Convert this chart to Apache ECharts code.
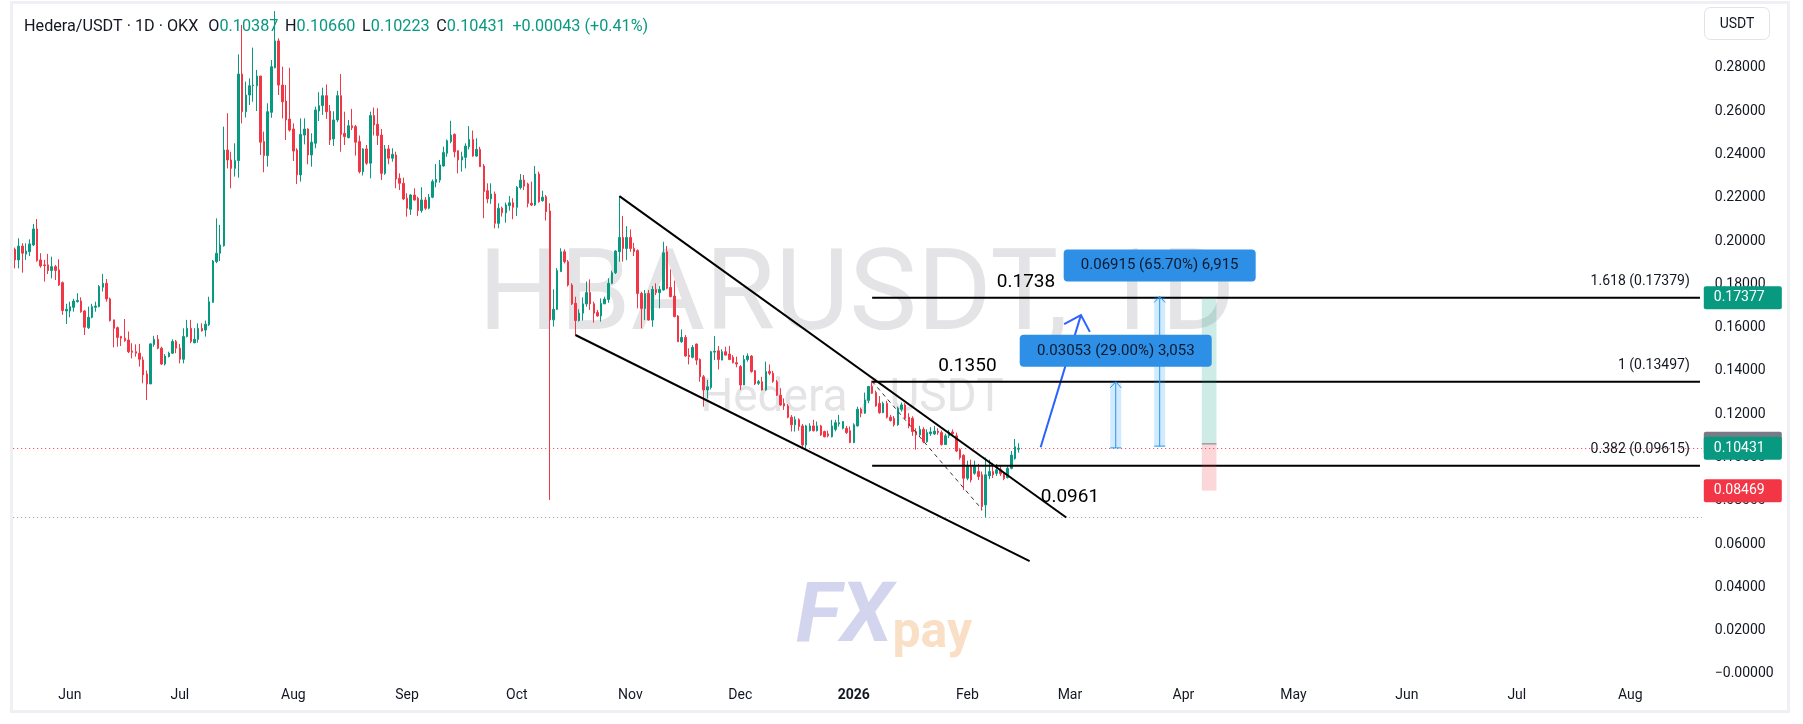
<!DOCTYPE html>
<html><head><meta charset="utf-8">
<script src="https://cdn.jsdelivr.net/npm/echarts@6/dist/echarts.min.js"></script>
<style>html,body{margin:0;padding:0;background:#fff;}#c{width:1803px;height:724px;}</style>
</head><body><div id="c"></div>
<script>
// ---------- DATA ----------
const firstDate = '2025-05-17';
const categoryCount = 461; // daily slots through Aug 2026
const opens = [
.1962,.1913,.1977,.1940,.1951,.1982,.2056,.1913,.1890,.1890,
.1864,.1882,.1867,.1808,.1677,.1677,.1694,.1720,.1723,.1677,
.1600,.1648,.1694,.1697,.1787,.1805,.1733,.1636,.1600,.1559,
.1551,.1543,.1492,.1489,.1482,.1451,.1386,.1340,.1522,.1546,
.1505,.1432,.1466,.1482,.1536,.1505,.1454,.1559,.1597,.1530,
.1546,.1597,.1589,.1613,.1717,.1905,.1944,.1979,.2421,.2375,
.2336,.2372,.2772,.2598,.2675,.2718,.2718,.2763,.2460,.2395,
.2595,.2801,.2925,.2721,.2647,.2564,.2518,.2421,.2306,.2490,
.2518,.2398,.2452,.2601,.2626,.2672,.2601,.2472,.2560,.2672,
.2498,.2478,.2533,.2529,.2460,.2321,.2426,.2360,.2580,.2540,
.2490,.2313,.2426,.2383,.2398,.2290,.2267,.2198,.2147,.2213,
.2198,.2141,.2190,.2152,.2203,.2272,.2282,.2347,.2406,.2460,
.2493,.2418,.2375,.2387,.2436,.2470,.2393,.2424,.2347,.2233,
.2195,.2218,.2082,.2152,.2131,.2164,.2177,.2156,.2247,.2282,
.2264,.2175,.2167,.2310,.2187,.2205,.2139,.1636,.1685,.1859,
.1951,.1905,.1797,.1713,.1633,.1667,.1710,.1762,.1710,.1670,
.1654,.1710,.1730,.1805,.1854,.1951,.2017,.1966,.2017,.1966,
.1956,.1758,.1689,.1758,.1635,.1777,.1762,.1774,.1951,.1786,
.1746,.1654,.1535,.1555,.1473,.1463,.1524,.1453,.1373,.1312,
.1324,.1487,.1493,.1450,.1489,.1478,.1463,.1438,.1420,.1335,
.1453,.1469,.1401,.1343,.1350,.1312,.1397,.1389,.1350,.1288,
.1250,.1238,.1186,.1151,.1175,.1146,.1058,.1124,.1146,.1124,
.1146,.1120,.1109,.1096,.1130,.1155,.1135,.1135,.1124,.1069,
.1146,.1223,.1205,.1264,.1328,.1300,.1250,.1207,.1250,.1186,
.1181,.1151,.1223,.1243,.1186,.1181,.1120,.1104,.1130,.1073,
.1110,.1109,.1122,.1115,.1060,.1100,.1118,.1100,.1036,.1010,
.0904,.0958,.0927,.0935,.0920,.0781,.0915,.0935,.0927,.0943,
.0925,.0908,.0950,.0995,.10387];
const highs = [
.1970,.2013,.1990,.1990,.2008,.2079,.2102,.1944,.1913,.1941,
.1928,.1890,.1916,.1813,.1710,.1720,.1733,.1759,.1740,.1682,
.1697,.1710,.1720,.1797,.1848,.1825,.1739,.1636,.1605,.1562,
.1640,.1582,.1528,.1523,.1525,.1466,.1402,.1528,.1562,.1566,
.1512,.1478,.1489,.1546,.1543,.1525,.1597,.1636,.1636,.1597,
.1620,.1620,.1633,.1743,.1913,.2105,.2075,.2529,.2591,.2413,
.2452,.2863,.2999,.2737,.2752,.2894,.2791,.2763,.2506,.2637,
.2837,.3063,.2937,.2806,.2721,.2801,.2544,.2429,.2567,.2567,
.2521,.2498,.2621,.2688,.2709,.2724,.2629,.2600,.2694,.2772,
.2598,.2560,.2611,.2537,.2488,.2429,.2444,.2598,.2617,.2614,
.2518,.2444,.2444,.2429,.2413,.2313,.2293,.2221,.2218,.2244,
.2205,.2249,.2203,.2218,.2285,.2356,.2375,.2436,.2470,.2556,
.2498,.2418,.2413,.2452,.2532,.2511,.2475,.2436,.2356,.2267,
.2267,.2229,.2175,.2159,.2178,.2208,.2198,.2254,.2310,.2306,
.2270,.2275,.2347,.2321,.2233,.2213,.2175,.1777,.1875,.1967,
.1962,.1913,.1805,.1743,.1685,.1740,.1813,.1823,.1720,.1682,
.1735,.1743,.1828,.1863,.1958,.2208,.2116,.2069,.2054,.1992,
.1962,.1766,.1774,.1774,.1792,.1805,.1792,.1997,.1977,.1869,
.1817,.1658,.1592,.1566,.1504,.1520,.1527,.1458,.1381,.1358,
.1493,.1561,.1515,.1500,.1512,.1515,.1473,.1466,.1427,.1473,
.1481,.1473,.1404,.1358,.1373,.1443,.1430,.1400,.1358,.1320,
.1273,.1247,.1196,.1190,.1181,.1155,.1151,.1158,.1174,.1166,
.1151,.1124,.1124,.1174,.1174,.1197,.1169,.1146,.1143,.1158,
.1235,.1231,.1300,.1331,.1355,.1309,.1284,.1258,.1262,.1197,
.1192,.1235,.1254,.1251,.1205,.1190,.1135,.1146,.1140,.1130,
.1140,.1146,.1135,.1125,.1110,.1128,.1130,.1115,.1043,.1015,
.0985,.0990,.0985,.0970,.0935,.1000,.0990,.0975,.0970,.0960,
.0932,.0960,.1030,.1085,.10660];
const lows = [
.1874,.1874,.1854,.1913,.1931,.1977,.1905,.1877,.1813,.1848,
.1828,.1820,.1793,.1659,.1617,.1648,.1674,.1716,.1669,.1566,
.1594,.1643,.1674,.1694,.1767,.1720,.1628,.1509,.1512,.1515,
.1535,.1482,.1458,.1466,.1420,.1343,.1266,.1340,.1512,.1500,
.1428,.1425,.1463,.1479,.1482,.1435,.1435,.1555,.1528,.1528,
.1531,.1582,.1559,.1608,.1716,.1898,.1908,.1974,.2336,.2244,
.2298,.2293,.2544,.2571,.2629,.2644,.2601,.2398,.2318,.2344,
.2570,.2798,.2675,.2567,.2467,.2506,.2370,.2264,.2275,.2447,
.2355,.2344,.2429,.2555,.2583,.2565,.2444,.2440,.2550,.2413,
.2444,.2475,.2513,.2395,.2313,.2303,.2352,.2290,.2488,.2444,
.2282,.2306,.2355,.2367,.2244,.2236,.2190,.2113,.2121,.2187,
.2116,.2131,.2144,.2147,.2198,.2249,.2270,.2344,.2390,.2452,
.2387,.2313,.2321,.2336,.2424,.2390,.2390,.2344,.2106,.2175,
.2172,.2059,.2059,.2113,.2085,.2141,.2101,.2116,.2239,.2236,
.2156,.2162,.2162,.2177,.2182,.2095,.0804,.1605,.1682,.1859,
.1897,.1790,.1705,.1566,.1628,.1633,.1697,.1682,.1623,.1651,
.1628,.1709,.1715,.1802,.1848,.1905,.1905,.1912,.1951,.1931,
.1689,.1597,.1635,.1633,.1604,.1751,.1689,.1771,.1777,.1740,
.1648,.1535,.1530,.1466,.1430,.1458,.1428,.1350,.1235,.1273,
.1315,.1450,.1407,.1450,.1473,.1450,.1435,.1417,.1312,.1335,
.1443,.1392,.1335,.1335,.1309,.1309,.1380,.1345,.1284,.1238,
.1220,.1181,.1120,.1120,.1124,.1043,.1038,.1120,.1120,.1120,
.1100,.1093,.1093,.1093,.1121,.1143,.1130,.1109,.1066,.1066,
.1143,.1186,.1202,.1251,.1294,.1235,.1202,.1205,.1180,.1166,
.1143,.1146,.1212,.1177,.1135,.1100,.1036,.1096,.1066,.1068,
.1100,.1104,.1105,.1055,.1058,.1090,.1102,.1025,.0990,.0850,
.0895,.0885,.0920,.0896,.0755,.0723,.0900,.0905,.0915,.0915,
.0895,.0903,.0945,.0990,.10223];
const closes = [
.1913,.1977,.1944,.1954,.1987,.2056,.1910,.1885,.1887,.1864,
.1882,.1864,.1797,.1679,.1685,.1697,.1723,.1726,.1674,.1602,
.1648,.1697,.1700,.1790,.1805,.1733,.1633,.1597,.1555,.1551,
.1540,.1489,.1486,.1482,.1454,.1382,.1340,.1525,.1546,.1505,
.1432,.1469,.1482,.1536,.1505,.1454,.1559,.1597,.1536,.1546,
.1597,.1585,.1616,.1720,.1908,.1944,.1982,.2421,.2375,.2336,
.2372,.2772,.2598,.2675,.2718,.2721,.2763,.2457,.2395,.2598,
.2806,.2925,.2721,.2644,.2560,.2513,.2416,.2306,.2493,.2518,
.2398,.2457,.2606,.2626,.2672,.2598,.2467,.2560,.2672,.2493,
.2483,.2533,.2524,.2457,.2321,.2426,.2360,.2580,.2537,.2488,
.2313,.2426,.2383,.2401,.2287,.2267,.2195,.2152,.2213,.2190,
.2141,.2190,.2152,.2203,.2275,.2285,.2352,.2409,.2464,.2490,
.2413,.2375,.2390,.2439,.2470,.2393,.2424,.2344,.2229,.2195,
.2218,.2082,.2152,.2131,.2167,.2177,.2156,.2249,.2282,.2254,
.2175,.2167,.2310,.2182,.2203,.2136,.1636,.1685,.1864,.1951,
.1905,.1797,.1710,.1633,.1667,.1710,.1762,.1710,.1667,.1654,
.1712,.1732,.1805,.1854,.1954,.2017,.1966,.2017,.1966,.1951,
.1758,.1689,.1758,.1635,.1777,.1762,.1777,.1946,.1782,.1743,
.1651,.1535,.1555,.1469,.1466,.1509,.1450,.1373,.1312,.1327,
.1489,.1491,.1453,.1489,.1473,.1453,.1438,.1432,.1335,.1453,
.1469,.1397,.1340,.1350,.1312,.1397,.1389,.1352,.1288,.1243,
.1238,.1186,.1151,.1175,.1143,.1058,.1146,.1146,.1124,.1146,
.1104,.1096,.1100,.1146,.1161,.1161,.1166,.1115,.1069,.1151,
.1223,.1205,.1266,.1328,.1297,.1238,.1207,.1250,.1186,.1171,
.1151,.1228,.1243,.1181,.1146,.1120,.1104,.1130,.1073,.1115,
.1118,.1122,.1115,.1060,.1100,.1117,.1110,.1030,.0999,.0904,
.0958,.0896,.0958,.0912,.0773,.0920,.0935,.0920,.0943,.0925,
.0903,.0950,.1011,.1050,.10431];

const monthNames = ['Jan','Feb','Mar','Apr','May','Jun','Jul','Aug','Sep','Oct','Nov','Dec'];
const yTicks = {min: 0, max: 0.30, step: 0.02};

// drawings (date, price)
const wedgeUpper = [['2025-10-29', 0.2208], ['2026-02-28', 0.0723]];
const wedgeLower = [['2025-10-17', 0.1566], ['2026-02-18', 0.0521]];
const dashedLeg  = [['2026-01-06', 0.1352], ['2026-02-05', 0.0760]];
const fibStart = '2026-01-06';
const fibLevels = [0.17379, 0.13497, 0.09615];
const fibRatios = ['1.618', '1', '0.382'];
const fibShort = ['0.1738', '0.1350', '0.0961'];
const fibShortAt = [['2026-02-17', -16], ['2026-02-01', -16], ['2026-03-01', 31]];
const arrowPath = [['2026-02-21', 0.1047], ['2026-03-04', 0.1658]];
const rangeDates = [['2026-03-12', '2026-03-15'], ['2026-03-24', '2026-03-27']];
const rangeBase = [0.10444, 0.10525];
const rangeTop = [0.13497, 0.17440];
const rangeText = ['0.03053 (29.00%) 3,053', '0.06915 (65.70%) 6,915'];
const longDates = ['2026-04-06', '2026-04-10'];
const longLevels = {entry: 0.1063, target: 0.17377, stop: 0.08469};
const priceTags = [['0.17377', 0.17377, '#089981'], ['0.10431', 0.10431, '#089981'], ['0.08469', 0.08469, '#f23645']];
const header = {pair: 'Hedera/USDT · 1D · OKX', o: '0.10387', h: '0.10660', l: '0.10223', c: '0.10431', chg: '+0.00043 (+0.41%)'};

// ---------- BUILD ----------
const categories = [];
const t0 = Date.parse(firstDate + 'T00:00:00Z');
for (let i = 0; i < categoryCount; i++) categories.push(new Date(t0 + i * 86400000).toISOString().slice(0, 10));
const lastCat = categories[categories.length - 1];
const candles = opens.map((o, i) => [o, closes[i], lows[i], highs[i]]);
const hi = Math.max(...highs), lo = Math.min(...lows), last = closes[closes.length - 1];

const FONT = 'Roboto, "Noto Sans", sans-serif';
const TXT = '#131722';
const chart = echarts.init(document.getElementById('c'), null, {renderer: 'canvas'});

function lineSeries(data, style) {
  return {type: 'line', data: data, symbol: 'none', silent: true, z: 6, animation: false,
    lineStyle: Object.assign({color: '#000', width: 2}, style)};
}
const fibSeries = fibLevels.map(v => lineSeries([[fibStart, v], [lastCat, v]], {width: 2}));

const option = {
  animation: false,
  backgroundColor: '#ffffff',
  textStyle: {fontFamily: FONT},
  grid: {left: 13.17, right: 101.2, top: 24.7, bottom: 50.1, outerBoundsMode: 'none', containLabel: false},
  xAxis: {
    type: 'category', data: categories, boundaryGap: true,
    axisLine: {show: false}, axisTick: {show: false}, splitLine: {show: false},
    axisLabel: {
      interval: (i, v) => v.slice(8) === '01',
      formatter: v => { const m = +v.slice(5, 7) - 1; return m === 0 ? '{b|' + v.slice(0, 4) + '}' : monthNames[m]; },
      color: TXT, fontSize: 14, margin: 15, fontFamily: FONT,
      rich: {b: {fontWeight: 'bold', fontSize: 14, color: TXT, fontFamily: FONT}}
    }
  },
  yAxis: {
    type: 'value', position: 'right', min: yTicks.min, max: yTicks.max, interval: yTicks.step,
    axisLine: {show: false}, axisTick: {show: false}, splitLine: {show: false},
    axisLabel: {showMaxLabel: false, color: TXT, fontSize: 14, margin: 13, fontFamily: FONT,
      formatter: v => Math.abs(v) < 1e-9 ? '\u22120.00000' : v.toFixed(5)}
  },
  series: [
    {
      type: 'candlestick', data: candles, barWidth: 2, clip: false, z: 5,
      itemStyle: {color: '#089981', color0: '#f23645', borderColor: '#089981', borderColor0: '#f23645', borderWidth: 1},
      markLine: {
        silent: true, symbol: ['none', 'none'], animation: false, label: {show: false}, precision: 6,
        data: [
          {yAxis: hi, lineStyle: {color: '#9598a1', type: [1, 3], width: 1}},
          {yAxis: lo, lineStyle: {color: '#9598a1', type: [1, 3], width: 1}},
          {yAxis: last, lineStyle: {color: '#f23645', type: [1, 3], width: 1}}
        ]
      }
    },
    lineSeries(wedgeUpper, {width: 2}),
    lineSeries(wedgeLower, {width: 2}),
    lineSeries(dashedLeg, {width: 1, type: [4, 4], color: '#333'}),
    lineSeries(arrowPath, {width: 2, color: '#2962ff'})
  ].concat(fibSeries)
};
chart.setOption(option);

// ---------- overlays placed through the chart's own scales ----------
const P = (d, v) => chart.convertToPixel({gridIndex: 0}, [categories.indexOf(d), v]);
const gridRight = chart.convertToPixel({gridIndex: 0}, [categoryCount - 1, 0])[0] + (P(categories[1], 0)[0] - P(categories[0], 0)[0]) / 2;
const g = [];

// watermark
g.push({type: 'text', z: 0, x: 857, y: 300, style: {text: 'HBARUSDT, 1D', font: '114px ' + FONT, fill: '#e4e4e7', align: 'center', verticalAlign: 'middle'}});
g.push({type: 'text', z: 0, x: 852, y: 399, style: {text: 'Hedera / USDT', font: '46px ' + FONT, fill: '#e4e4e7', align: 'center', verticalAlign: 'middle'}});
// logo
g.push({type: 'text', z: 0, x: 796, y: 620, style: {text: '{a|FX}{b|pay}', align: 'left', verticalAlign: 'middle',
  rich: {a: {font: 'italic bold 84px ' + FONT, fill: '#d3d5ee'}, b: {font: 'bold 50px ' + FONT, fill: '#f9dfc6', padding: [28, 0, 0, 0]}}}});

// frame
g.push({type: 'rect', z: 1, shape: {x: 11.5, y: 2.5, width: 1777, height: 709}, style: {fill: null, stroke: '#eef0f3', lineWidth: 3}});

// header
g.push({type: 'text', z: 50, x: 24, y: 27, style: {
  text: '{t|' + header.pair + '}   {k|O}{v|' + header.o + '}  {k|H}{v|' + header.h + '}  {k|L}{v|' + header.l + '}  {k|C}{v|' + header.c + '}  {v|' + header.chg + '}',
  verticalAlign: 'middle', align: 'left',
  rich: {t: {font: '16.2px ' + FONT, fill: TXT}, k: {font: '16.2px ' + FONT, fill: TXT}, v: {font: '16.2px ' + FONT, fill: '#089981'}}}});

// fib texts
fibLevels.forEach((v, i) => {
  const y = P(fibStart, v)[1];
  g.push({type: 'text', z: 20, x: gridRight - 12, y: y - 16, style: {text: fibRatios[i] + ' (' + v.toFixed(5) + ')', font: '14px ' + FONT, fill: TXT, align: 'right', verticalAlign: 'middle'}});
  const a = P(fibShortAt[i][0], v);
  g.push({type: 'text', z: 20, x: a[0], y: a[1] + fibShortAt[i][1], style: {text: fibShort[i], font: '19px ' + FONT, fill: '#000', align: 'center', verticalAlign: 'middle'}});
});

// arrow head
(function () {
  const p0 = P(arrowPath[0][0], arrowPath[0][1]), p1 = P(arrowPath[1][0], arrowPath[1][1]);
  const dx = p1[0] - p0[0], dy = p1[1] - p0[1], L = Math.hypot(dx, dy);
  const ux = -dx / L, uy = -dy / L, len = 19, a = Math.PI / 4;
  const r = (ang) => [p1[0] + len * (ux * Math.cos(ang) - uy * Math.sin(ang)), p1[1] + len * (ux * Math.sin(ang) + uy * Math.cos(ang))];
  g.push({type: 'polyline', z: 21, shape: {points: [r(a), p1, r(-a)]}, style: {stroke: '#2962ff', lineWidth: 2, fill: null}});
})();

// price range tools
rangeDates.forEach((dd, i) => {
  const a = P(dd[0], rangeTop[i]), b = P(dd[1], rangeBase[i]);
  const x0 = a[0], x1 = b[0], yT = a[1], yB = b[1], xc = (x0 + x1) / 2;
  g.push({type: 'rect', z: 15, shape: {x: x0, y: yT, width: x1 - x0, height: yB - yT}, style: {fill: 'rgba(33,150,243,0.2)'}});
  g.push({type: 'line', z: 16, shape: {x1: xc, y1: yB, x2: xc, y2: yT}, style: {stroke: '#2196f3', lineWidth: 1}});
  g.push({type: 'line', z: 16, shape: {x1: x0, y1: yB, x2: x1, y2: yB}, style: {stroke: '#2196f3', lineWidth: 1}});
  g.push({type: 'polyline', z: 16, shape: {points: [[x0, yT + 6], [xc, yT], [x1, yT + 6]]}, style: {stroke: '#2196f3', lineWidth: 1, fill: null}});
  const w = 192, h = 32;
  g.push({type: 'rect', z: 30, shape: {x: xc - w / 2, y: yT - 15 - h, width: w, height: h, r: 4}, style: {fill: '#2e8fe6'}});
  g.push({type: 'text', z: 31, x: xc, y: yT - 15 - h / 2, style: {text: rangeText[i], font: '15px ' + FONT, fill: '#0b1a2e', align: 'center', verticalAlign: 'middle'}});
});

// long position tool
(function () {
  const a = P(longDates[0], longLevels.target), b = P(longDates[1], longLevels.entry), c = P(longDates[1], longLevels.stop);
  g.push({type: 'rect', z: 15, shape: {x: a[0], y: a[1], width: b[0] - a[0], height: b[1] - a[1]}, style: {fill: 'rgba(8,153,129,0.2)'}});
  g.push({type: 'rect', z: 15, shape: {x: a[0], y: b[1], width: b[0] - a[0], height: c[1] - b[1]}, style: {fill: 'rgba(242,54,69,0.2)'}});
  g.push({type: 'line', z: 16, shape: {x1: a[0], y1: b[1], x2: b[0], y2: b[1]}, style: {stroke: '#787b86', lineWidth: 1}});
})();

// right axis tags
(function () {
  const ye = P(lastCat, longLevels.entry)[1];
  g.push({type: 'rect', z: 60, shape: {x: gridRight + 2, y: ye - 12, width: 78, height: 23, r: 2}, style: {fill: '#787b86'}});
  priceTags.forEach(t => {
    const y = P(lastCat, t[1])[1];
    g.push({type: 'rect', z: 61, shape: {x: gridRight + 2, y: y - 11.5, width: 78, height: 23, r: 2}, style: {fill: t[2]}});
    g.push({type: 'text', z: 62, x: gridRight + 12, y: y, style: {text: t[0], font: '14px ' + FONT, fill: '#ffffff', align: 'left', verticalAlign: 'middle'}});
  });
})();

// currency box
g.push({type: 'rect', z: 60, shape: {x: 1704.5, y: 7.5, width: 65, height: 32, r: 6}, style: {fill: '#fff', stroke: '#e0e3eb', lineWidth: 1}});
g.push({type: 'text', z: 61, x: 1737, y: 24, style: {text: 'USDT', font: '14px ' + FONT, fill: TXT, align: 'center', verticalAlign: 'middle'}});

chart.setOption({graphic: {elements: g}});
</script>
</body></html>
